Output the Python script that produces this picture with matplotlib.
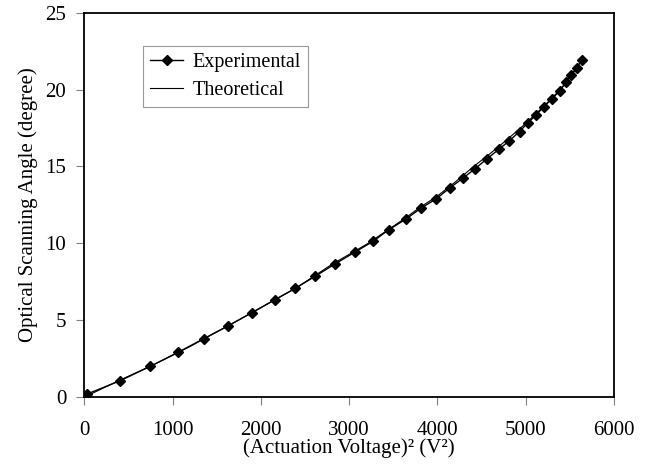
import matplotlib
matplotlib.use("Agg")
import matplotlib.pyplot as plt

plt.rcParams["font.family"] = ["Liberation Serif", "DejaVu Serif"]

# experimental points
exp_v2 = [0, 30, 409, 745, 1060, 1351, 1627, 1895, 2156, 2387, 2615, 2845,
          3065, 3270, 3452, 3643, 3812, 3982, 4139, 4287, 4428, 4562, 4697,
          4816, 4930, 5025, 5119, 5202, 5297, 5384, 5460, 5517, 5581, 5637]
exp_angle = [0, 0.2, 1.08, 2.0, 2.91, 3.8, 4.63, 5.48, 6.33, 7.07, 7.86, 8.68,
             9.43, 10.13, 10.9, 11.58, 12.28, 12.88, 13.6, 14.23, 14.86, 15.5,
             16.12, 16.68, 17.27, 17.84, 18.36, 18.86, 19.4, 19.9, 20.5, 20.97,
             21.43, 21.95]

# theoretical curve
th_v2 = [0, 200, 400, 800, 1200, 1600, 2000, 2400, 2800, 3200, 3600, 3800,
         4000, 4200, 4400, 4600, 4800, 5000, 5200, 5400, 5600]
th_angle = [0, 0.55, 1.1, 2.15, 3.3, 4.55, 5.82, 7.1, 8.62, 9.95, 11.5, 12.33,
            13.08, 13.98, 14.95, 15.85, 16.8, 17.8, 18.88, 20.05, 21.55]

fig = plt.figure(figsize=(6.49, 4.70), dpi=100)
ax = fig.add_axes([0.130, 0.155, 0.816, 0.818])

ax.plot(exp_v2, exp_angle, color="black", lw=1.0, marker="D", ms=5,
        label="Experimental")
ax.plot(th_v2, th_angle, color="black", lw=0.8, label="Theoretical")

ax.set_xlim(0, 6000)
ax.set_ylim(0, 25)
ax.set_xticks([0, 1000, 2000, 3000, 4000, 5000, 6000])
ax.set_yticks([0, 5, 10, 15, 20, 25])
ax.tick_params(direction="out", length=6, width=0.8, color="#808080",
               labelsize=15)
ax.tick_params(axis="x", pad=11)
ax.tick_params(axis="y", pad=7)
for side in ["left", "bottom", "right", "top"]:
    ax.spines[side].set_linewidth(1.3)
    ax.spines[side].set_color("black")

ax.set_xlabel("(Actuation Voltage)\u00b2 (V\u00b2)", fontsize=15, labelpad=-1)
ax.set_ylabel("Optical Scanning Angle (degree)", fontsize=15, labelpad=5)

leg = ax.legend(loc="upper left", bbox_to_anchor=(0.111, 0.913),
                borderaxespad=0, fontsize=14.5, fancybox=False,
                handlelength=1.65, handletextpad=0.45, borderpad=0.35,
                labelspacing=0.45)
leg.get_frame().set_edgecolor("#808080")
leg.get_frame().set_linewidth(0.8)

fig.savefig("out.png", dpi=100)
